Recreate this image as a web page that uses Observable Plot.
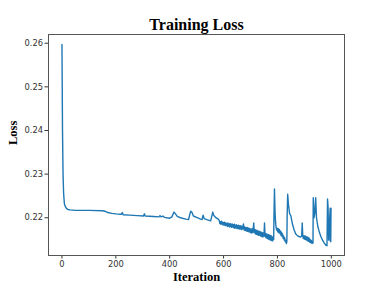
<!DOCTYPE html>
<html><head><meta charset="utf-8">
<script src="https://cdn.jsdelivr.net/npm/d3@7"></script>
<script src="https://cdn.jsdelivr.net/npm/@observablehq/plot@0.6"></script>
<style>body{margin:0;background:#fff}</style>
</head><body><div id="chart"></div>
<script>
const chartTitle = "Training Loss";
const xLabel = "Iteration";
const yLabel = "Loss";
const xTicks = [0, 200, 400, 600, 800, 1000];
const yTicks = [0.22, 0.23, 0.24, 0.25, 0.26];

// [iteration, loss] pairs
const initialDrop = [
  [0, 0.2597], [2, 0.2400], [4, 0.2300], [6, 0.2258], [7, 0.2248], [9, 0.2232], [12, 0.2226], [16, 0.2222], [22, 0.2219], [30, 0.2218],
  [50, 0.2217], [100, 0.2217], [150, 0.2216], [160, 0.2215]
];
const slowDecline = [
  [170, 0.2212], [185, 0.2210], [200, 0.2209], [220, 0.2208], [224, 0.2212], [227, 0.2207],
  [250, 0.2206], [280, 0.2205], [303, 0.2204], [306, 0.2209], [309, 0.2204], [340, 0.2203], [360, 0.2202], [364, 0.2205], [368, 0.2202], [375, 0.2204],
  [380, 0.2201], [400, 0.2199], [408, 0.2202], [416, 0.2213], [420, 0.2210], [428, 0.2203], [440, 0.2200], [460, 0.2197], [470, 0.2196], [474, 0.2206],
  [478, 0.2215], [482, 0.2213], [488, 0.2204], [500, 0.2201], [515, 0.2197], [520, 0.2196], [524, 0.2206], [528, 0.2198], [540, 0.2195], [552, 0.2193],
  [556, 0.2203], [560, 0.2213], [563, 0.2206], [570, 0.2201], [580, 0.2197]
];
const noisyBand = [
  [584, 0.2194], [586, 0.2187], [588, 0.2191], [590, 0.2185], [592, 0.2192], [594, 0.2186], [596, 0.2190], [598, 0.2183], [600, 0.2189], [602, 0.2184],
  [604, 0.2190], [606, 0.2182], [608, 0.2188], [610, 0.2183], [612, 0.2187], [614, 0.2180], [616, 0.2188], [618, 0.2181], [620, 0.2186], [622, 0.2179],
  [624, 0.2187], [626, 0.2180], [628, 0.2185], [630, 0.2178], [632, 0.2186], [634, 0.2179], [636, 0.2184], [638, 0.2177], [640, 0.2185], [642, 0.2176],
  [644, 0.2183], [646, 0.2177], [648, 0.2184], [650, 0.2175], [652, 0.2182], [654, 0.2176], [656, 0.2183], [658, 0.2174], [660, 0.2181], [662, 0.2175],
  [664, 0.2182], [666, 0.2173], [668, 0.2180], [670, 0.2174], [672, 0.2181], [674, 0.2186], [676, 0.2172], [678, 0.2179], [680, 0.2171], [682, 0.2178],
  [684, 0.2170], [686, 0.2178], [688, 0.2169], [690, 0.2177], [692, 0.2168], [694, 0.2176], [696, 0.2168], [698, 0.2175], [700, 0.2166], [702, 0.2174],
  [704, 0.2165], [706, 0.2175], [708, 0.2166], [710, 0.2174], [712, 0.2188], [714, 0.2166], [716, 0.2173], [718, 0.2163], [720, 0.2172], [722, 0.2162],
  [724, 0.2171], [726, 0.2161], [728, 0.2170], [730, 0.2160], [732, 0.2169], [734, 0.2160], [736, 0.2168], [738, 0.2158], [740, 0.2167], [742, 0.2157],
  [744, 0.2166], [746, 0.2156], [748, 0.2165], [750, 0.2158], [752, 0.2188], [754, 0.2157], [756, 0.2164], [758, 0.2154], [760, 0.2163], [762, 0.2153],
  [764, 0.2162], [766, 0.2151], [768, 0.2161], [770, 0.2150], [772, 0.2160], [774, 0.2149], [776, 0.2159], [778, 0.2148], [780, 0.2157], [782, 0.2147],
  [784, 0.2155], [786, 0.2150]
];
const spikyEnd = [
  [787, 0.2200], [789, 0.2266], [791, 0.2215], [793, 0.2190], [795, 0.2178], [797, 0.2172], [799, 0.2176], [801, 0.2168], [803, 0.2175], [805, 0.2166],
  [807, 0.2173], [809, 0.2164], [811, 0.2170], [813, 0.2160], [815, 0.2167], [817, 0.2157], [819, 0.2163], [821, 0.2153], [823, 0.2158], [825, 0.2149],
  [827, 0.2154], [829, 0.2145], [831, 0.2148], [833, 0.2141], [835, 0.2145], [836, 0.2200], [838, 0.2254], [841, 0.2230], [845, 0.2210], [850, 0.2204],
  [856, 0.2185], [862, 0.2172], [868, 0.2163], [874, 0.2159], [880, 0.2157], [886, 0.2156], [890, 0.2158], [892, 0.2188], [894, 0.2160], [896, 0.2153],
  [898, 0.2158], [900, 0.2151], [902, 0.2159], [904, 0.2150], [906, 0.2157], [908, 0.2149], [910, 0.2156], [912, 0.2147], [914, 0.2155], [916, 0.2146],
  [918, 0.2153], [920, 0.2144], [922, 0.2150], [924, 0.2143], [926, 0.2148], [928, 0.2141], [930, 0.2145], [932, 0.2142], [933, 0.2246], [936, 0.2200],
  [939, 0.2212], [942, 0.2246], [945, 0.2200], [950, 0.2180], [956, 0.2166], [962, 0.2156], [968, 0.2148], [974, 0.2142], [980, 0.2137], [984, 0.2136],
  [986, 0.2243], [988, 0.2225], [990, 0.2150], [992, 0.2148], [994, 0.2200], [996, 0.2222], [998, 0.2145], [999, 0.2222]
];

const data = [...initialDrop, ...slowDecline, ...noisyBand, ...spikyEnd]
  .map(([iteration, loss]) => ({iteration, loss}));
const serif = "'Liberation Serif', 'Times New Roman', serif";

const chart = Plot.plot({
  width: 382,
  height: 287,
  marginLeft: 48,
  marginRight: 38,
  marginTop: 34,
  marginBottom: 32,
  style: {fontFamily: "'DejaVu Sans', sans-serif", fontSize: "8.3px", color: "#333", background: "#fff"},
  x: {domain: [-50, 1049], ticks: xTicks, tickFormat: d => String(d), tickSize: 3.5, tickPadding: 2, label: null},
  y: {domain: [0.21135, 0.2620], ticks: yTicks, tickFormat: ".2f", tickSize: 3.5, tickPadding: 2, label: null},
  marks: [
    Plot.line(data, {x: "iteration", y: "loss", stroke: "#1f77b4", strokeWidth: 1.4}),
    Plot.frame({stroke: "#555", strokeWidth: 1}),
    Plot.text([chartTitle], {frameAnchor: "top", lineAnchor: "bottom", dy: -5, text: d => d,
      fontFamily: serif, fontWeight: "bold", fontSize: 16, fill: "#000"}),
    Plot.text([xLabel], {frameAnchor: "bottom", lineAnchor: "bottom", dy: 25, text: d => d,
      fontFamily: serif, fontWeight: "bold", fontSize: 12.5, fill: "#000"}),
    Plot.text([yLabel], {frameAnchor: "left", lineAnchor: "bottom", rotate: -90, dx: -32, text: d => d,
      fontFamily: serif, fontWeight: "bold", fontSize: 12.5, fill: "#000"})
  ]
});
document.getElementById("chart").appendChild(chart);
</script>
</body></html>
